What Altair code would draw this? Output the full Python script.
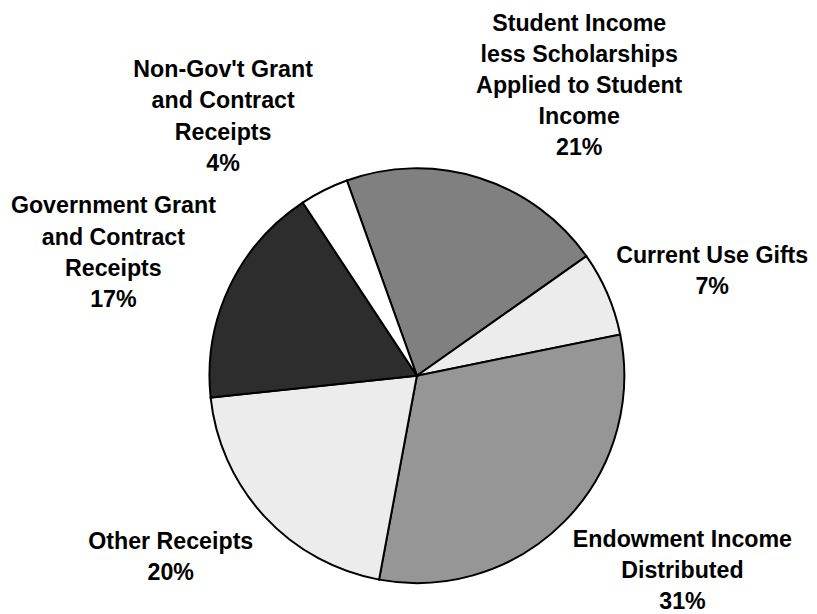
import math
import altair as alt
import pandas as pd

# ---- data ----
categories = [
    "Student Income less Scholarships Applied to Student Income",
    "Current Use Gifts",
    "Endowment Income Distributed",
    "Other Receipts",
    "Government Grant and Contract Receipts",
    "Non-Gov't Grant and Contract Receipts",
]
label_lines = [
    "Student Income\nless Scholarships\nApplied to Student\nIncome",
    "Current Use Gifts",
    "Endowment Income\nDistributed",
    "Other Receipts",
    "Government Grant\nand Contract\nReceipts",
    "Non-Gov't Grant\nand Contract\nReceipts",
]
shares = [20.7, 6.6, 31.1, 20.4, 17.4, 3.8]
pct_labels = ["21%", "7%", "31%", "20%", "17%", "4%"]

# ---- styles ----
fills = ["#808080", "#ececec", "#969696", "#ececec", "#2d2d2d", "#ffffff"]
start = math.radians(340.27)
label_radius = 300
line_height = 31.5
label_offsets = [(75, -7), (24.5, 13.25), (56, -12.5), (-28, -20), (-35, 4), (-61, 6.5)]
cx, cy = 414, 367.5
font = "Liberation Sans, Arial, Helvetica, sans-serif"

labels = [f"{a}\n{b}" for a, b in zip(label_lines, pct_labels)]
df = pd.DataFrame({
    "category": categories,
    "value": shares,
    "label": labels,
    "idx": list(range(len(categories))),
})

theta_scale = alt.Scale(domain=[0, 100], range=[start, start + 2 * math.pi])

arc = alt.Chart(df).mark_arc(
    outerRadius=210, stroke="black", strokeWidth=2
).encode(
    x=alt.value(cx),
    y=alt.value(cy),
    theta=alt.Theta("value:Q", stack=True, scale=theta_scale),
    order=alt.Order("idx:Q"),
    color=alt.Color("category:N", scale=alt.Scale(domain=categories, range=fills), legend=None),
)

texts = []
for cat, lab, (ddx, ddy) in zip(categories, labels, label_offsets):
    n_lines = lab.count("\n") + 1
    t = alt.Chart(df).transform_window(
        cum="sum(value)", sort=[alt.SortField("idx")], frame=[None, 0]
    ).transform_calculate(
        mid="datum.cum - datum.value / 2"
    ).transform_filter(
        alt.datum.category == cat
    ).mark_text(
        radius=label_radius, dx=ddx - 1, dy=ddy - (n_lines - 1) / 2 * line_height,
        font=font, fontWeight="bold",
        fontSize=23.5, lineHeight=line_height, lineBreak="\n", color="black",
        align="center", baseline="middle",
    ).encode(
        x=alt.value(cx),
        y=alt.value(cy),
        theta=alt.Theta("mid:Q", stack=False, scale=theta_scale),
        text="label:N",
    )
    texts.append(t)

chart = alt.layer(arc, *texts).properties(
    width=790, height=590, padding=0, background="white"
).configure_view(stroke=None)

chart.save("out.html", embed_options={"renderer": "svg", "actions": False})
